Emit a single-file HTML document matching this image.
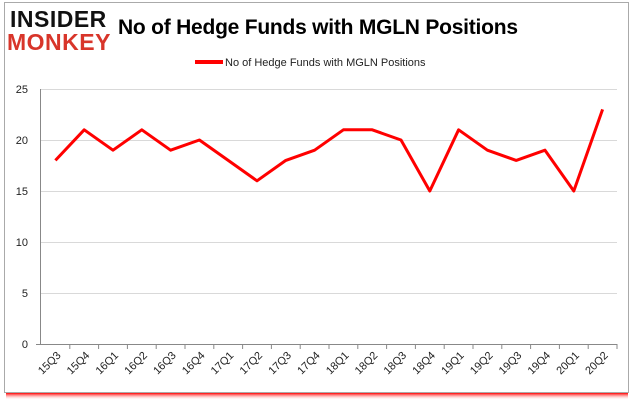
<!DOCTYPE html>
<html><head><style>
body{margin:0;background:#fff;width:635px;height:405px;overflow:hidden;font-family:"Liberation Sans",sans-serif}
</style></head><body>
<svg width="635" height="405" xmlns="http://www.w3.org/2000/svg" font-family="Liberation Sans, sans-serif">
<defs><linearGradient id="sh" x1="0" y1="0" x2="0" y2="1"><stop offset="0" stop-color="#f00"/><stop offset="1" stop-color="#fff" stop-opacity="0"/></linearGradient></defs>
<rect x="6" y="393" width="622" height="7" fill="url(#sh)"/>
<rect x="4.5" y="2.5" width="624" height="390" fill="#fff" stroke="#aaa"/>
<text x="10" y="27" font-size="23" font-weight="bold" fill="#111" letter-spacing="0.5">INSIDER</text>
<text x="7" y="50" font-size="23" font-weight="bold" fill="#d8352a" letter-spacing="0.5">MONKEY</text>
<text x="118" y="34" font-size="21" font-weight="bold" fill="#000" textLength="400">No of Hedge Funds with MGLN Positions</text>
<line x1="195" y1="62" x2="223" y2="62" stroke="#f00" stroke-width="4"/>
<text x="225" y="66" font-size="11" fill="#222">No of Hedge Funds with MGLN Positions</text>
<g stroke="#d9d9d9" stroke-width="1">
<line x1="41" y1="89.5" x2="617" y2="89.5"/><line x1="41" y1="140.5" x2="617" y2="140.5"/><line x1="41" y1="191.5" x2="617" y2="191.5"/><line x1="41" y1="242.5" x2="617" y2="242.5"/><line x1="41" y1="293.5" x2="617" y2="293.5"/>
</g>
<line x1="36" y1="344.5" x2="617" y2="344.5" stroke="#888"/>
<line x1="40.5" y1="89" x2="40.5" y2="344" stroke="#888"/>
<g font-size="11" fill="#222" text-anchor="end">
<text x="28" y="348">0</text><text x="28" y="297">5</text><text x="28" y="246">10</text><text x="28" y="195">15</text><text x="28" y="144">20</text><text x="28" y="93">25</text>
</g>
<g stroke="#888" id="tk"></g>
<polyline fill="none" stroke="#f00" stroke-width="3" stroke-linejoin="round" id="ln"/>
<g id="lb" font-size="11" fill="#222"></g>
</svg>
<script>
var v=[18,21,19,21,19,20,18,16,18,19,21,21,20,15,21,19,18,19,15,23];
var l=["15Q3","15Q4","16Q1","16Q2","16Q3","16Q4","17Q1","17Q2","17Q3","17Q4","18Q1","18Q2","18Q3","18Q4","19Q1","19Q2","19Q3","19Q4","20Q1","20Q2"];
var x0=41,w=(617-41)/20,pts=[],tk="",lb="";
for(var i=0;i<20;i++){var x=x0+w*(i+0.5),y=344-v[i]*10.2;pts.push(x+","+y);
tk+='<line x1="'+(x0+w*i+w)+'" y1="344" x2="'+(x0+w*i+w)+'" y2="349"/>';
lb+='<text transform="translate('+(x+6)+',356) rotate(-45)" text-anchor="end">'+l[i]+'</text>';}
document.getElementById("ln").setAttribute("points",pts.join(" "));
document.getElementById("tk").innerHTML=tk;
document.getElementById("lb").innerHTML=lb;
</script>
</body></html>
